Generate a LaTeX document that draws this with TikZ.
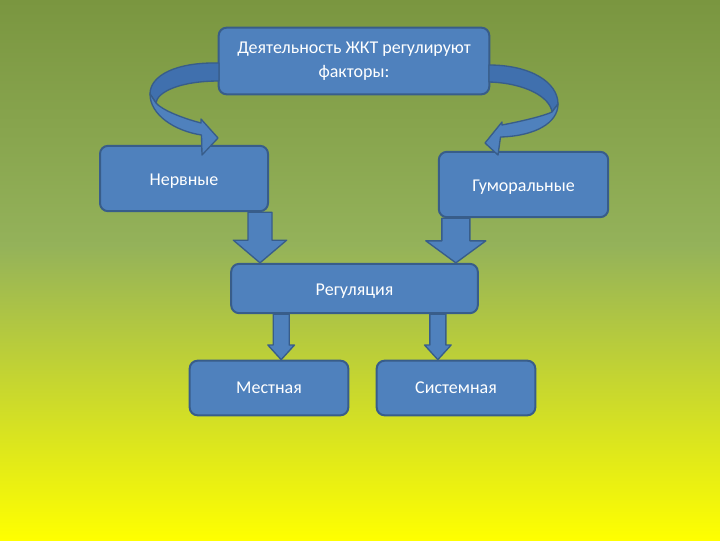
\documentclass[tikz,border=0pt]{standalone}
\usepackage{fontspec}
\setmainfont{Carlito}
\usepackage{xcolor}
\usetikzlibrary{calc}
\definecolor{box_blue}{HTML}{4F81BD}
\definecolor{box_edge}{HTML}{385D8A}
\definecolor{band_dark}{HTML}{4070AE}
\definecolor{bg_top}{RGB}{122,150,64}
\definecolor{bg_mid}{RGB}{148,178,90}
\definecolor{bg_bot}{RGB}{255,255,0}

\begin{document}
\begin{tikzpicture}[
                x=0.75pt,
                y=-0.75pt,
                line join=round,
                box/.style={draw=box_edge, line width=1.5pt, fill=box_blue,
                    rounded corners=6pt, text=white, align=center, inner sep=0pt,
                    font=\fontsize{13.5}{18}\selectfont},
                band/.style={draw=box_edge, line width=1pt, fill=box_blue},
            ]
            % Block arrow: start, tip, half shaft, half head, head length
            \def\blockarrow#1#2#3#4#5{%
                \draw[band] let \p1=(#1), \p2=(#2) in
                    (\x1-#3,\y1) -- (\x1-#3,\y2+#5) -- (\x1-#4,\y2+#5) -- (\x1,\y2)
                    -- (\x1+#4,\y2+#5) -- (\x1+#3,\y2+#5) -- (\x1+#3,\y1) -- cycle;}
            % Text set a little low in its box
            \def\lowtext#1{\raisebox{-2pt}[\height][\depth]{#1}}

            % Background
            \useasboundingbox (0,0) rectangle (720,540);
            \shade[top color=bg_top, bottom color=bg_mid] (0,0) rectangle (720,246);
            \shade[top color=bg_mid, bottom color=bg_bot] (0,245) rectangle (720,540);

            % Boxes
            \node[box, minimum width=203pt, minimum height=50pt] (factors) at (354,61) {Деятельность ЖКТ регулируют\\факторы:};
            \node[box, minimum width=126pt, minimum height=49pt] (nerv) at (184,178.5) {\lowtext{Нервные}};
            \node[box, minimum width=127pt, minimum height=49pt] (gum) at (523.5,184.5) {\lowtext{Гуморальные}};
            \node[box, minimum width=185pt, minimum height=37pt] (reg) at (354.5,288.5) {\lowtext{Регуляция}};
            \node[box, minimum width=119pt, minimum height=41pt] (mest) at (269,388) {Местная};
            \node[box, minimum width=119pt, minimum height=41pt] (sist) at (456,388) {Системная};

            % Straight block arrows
            \blockarrow{$(nerv.south east)+(-9,0)$}{reg.north}{9pt}{20pt}{17pt}
            \blockarrow{$(gum.south west)+(18,0)$}{reg.north}{10.5pt}{22.5pt}{16.5pt}
            \blockarrow{$(reg.south west)+(51,0)$}{mest.north}{6pt}{10pt}{11pt}
            \blockarrow{$(reg.south east)+(-41,0)$}{sist.north}{6pt}{10pt}{11pt}

            % Left curved arrow
            \draw[band, fill=band_dark] (219,63) .. controls (175,62) and (150,76) .. (150,94)
                -- (156,103) .. controls (157,92) and (180,81) .. (219,81) -- cycle;
            \draw[band] (150,94) .. controls (150,115) and (175,131) .. (201.5,135)
                -- (202,155) -- (218,138) -- (201,119) -- (201,123)
                .. controls (182,118) and (162,110) .. (156,103) -- cycle;

            % Right curved arrow
            \draw[band, fill=band_dark] (489,65) .. controls (530,65) and (558,82) .. (558,104)
                -- (552,112) .. controls (550,97) and (525,83) .. (489,82) -- cycle;
            \draw[band] (558,104) .. controls (558,123) and (535,136) .. (500.5,137)
                -- (498,155) -- (485,143) -- (502,122) -- (502,125)
                .. controls (528,120) and (546,115) .. (552,112) -- cycle;
        \end{tikzpicture}
\end{document}
